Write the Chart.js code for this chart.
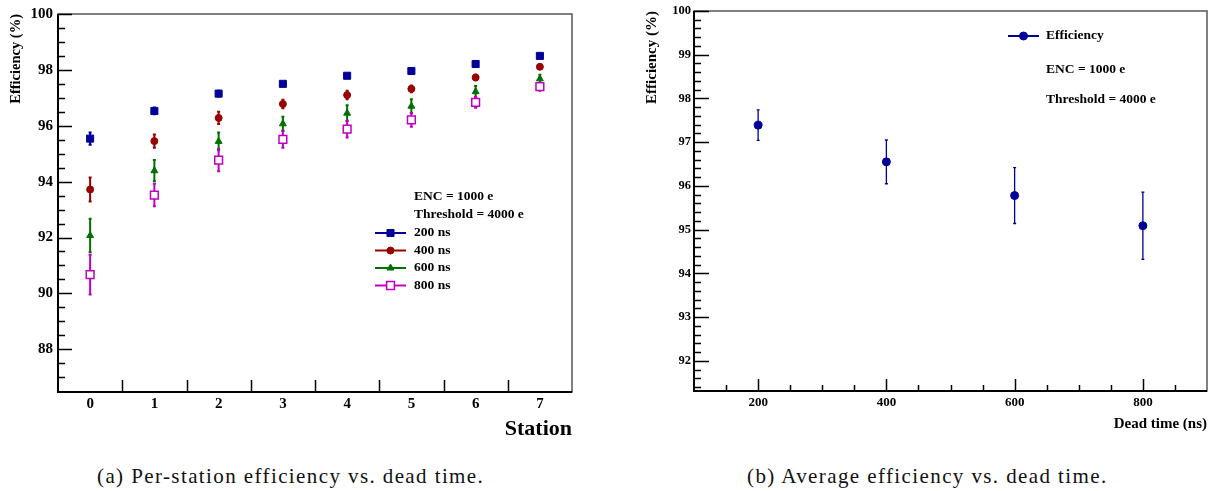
<!DOCTYPE html>
<html>
<head>
<meta charset="utf-8">
<script src="https://cdn.jsdelivr.net/npm/chart.js@4/dist/chart.umd.min.js"></script>
<style>
  body { margin: 0; background: #fff; width: 1215px; height: 491px; position: relative; overflow: hidden; font-family: "Liberation Serif", serif; }
  .box { position: absolute; top: 0; width: 600px; height: 450px; }
  .cap { position: absolute; top: 464px; font-size: 21px; line-height: 24px; letter-spacing: 1.4px; white-space: nowrap; color: #111; }
</style>
</head>
<body>
<div class="box" style="left:0"><canvas id="chartA" width="600" height="450"></canvas></div>
<div class="box" style="left:620px"><canvas id="chartB" width="600" height="450"></canvas></div>
<div class="cap" style="left:97px">(a) Per-station efficiency vs. dead time.</div>
<div class="cap" style="left:747px">(b) Average efficiency vs. dead time.</div>
<script>
// --- data (a): per-station efficiency (%) for each dead time
const stations = [0, 1, 2, 3, 4, 5, 6, 7];
const eff200 = [95.54, 96.53, 97.15, 97.50, 97.79, 97.96, 98.21, 98.50];
const err200 = [0.22, 0.12, 0.10, 0.06, 0.06, 0.06, 0.06, 0.06];
const eff400 = [93.72, 95.45, 96.28, 96.78, 97.10, 97.32, 97.73, 98.11];
const err400 = [0.43, 0.24, 0.22, 0.15, 0.15, 0.12, 0.10, 0.06];
const eff600 = [92.07, 94.39, 95.44, 96.07, 96.45, 96.70, 97.22, 97.68];
const err600 = [0.60, 0.38, 0.32, 0.25, 0.28, 0.25, 0.20, 0.15];
const eff800 = [90.67, 93.52, 94.77, 95.51, 95.88, 96.21, 96.84, 97.40];
const err800 = [0.71, 0.40, 0.40, 0.30, 0.30, 0.25, 0.20, 0.15];

// --- data (b): average efficiency vs dead time
const deadTimes = [200, 400, 600, 800];
const avgEff = [97.39, 96.55, 95.78, 95.09];
const avgErr = [0.35, 0.50, 0.64, 0.77];

// --- tick labels
const yTicksA = [88, 90, 92, 94, 96, 98, 100];
const xTicksA = [0, 1, 2, 3, 4, 5, 6, 7];
const yTicksB = [92, 93, 94, 95, 96, 97, 98, 99, 100];
const xTicksB = [200, 400, 600, 800];

const notes = ['ENC = 1000 e', 'Threshold = 4000 e'];

const BLUE = '#000099', RED = '#990000', GREEN = '#007000', MAGENTA = '#c000c0';
const bold = (s) => ({ family: '"Liberation Serif", serif', weight: 'bold', size: s });

function pts(xs, ys) { return xs.map((x, i) => ({ x: x, y: ys[i] })); }

// ROOT-like frame, inward ticks, error bars, legend
const rootStyle = {
  id: 'rootStyle',
  beforeDatasetsDraw(chart, args, o) {
    const ctx = chart.ctx, xs = chart.scales.x, ys = chart.scales.y;
    chart.data.datasets.forEach(ds => {
      if (!ds.errors) return;
      ctx.save();
      ctx.strokeStyle = ds.borderColor;
      ctx.lineWidth = o.errWidth;
      ds.data.forEach((p, j) => {
        const px = xs.getPixelForValue(p.x);
        const lo = ys.getPixelForValue(p.y - ds.errors[j]);
        const hi = ys.getPixelForValue(p.y + ds.errors[j]);
        ctx.beginPath();
        ctx.moveTo(px, lo); ctx.lineTo(px, hi);
        ctx.moveTo(px - o.cap, lo); ctx.lineTo(px + o.cap, lo);
        ctx.moveTo(px - o.cap, hi); ctx.lineTo(px + o.cap, hi);
        ctx.stroke();
      });
      ctx.restore();
    });
  },
  afterDraw(chart, args, o) {
    const ctx = chart.ctx, a = chart.chartArea, xs = chart.scales.x, ys = chart.scales.y;
    ctx.save();
    // frame
    ctx.strokeStyle = '#555';
    ctx.lineWidth = 1.5;
    ctx.strokeRect(a.left, a.top, a.right - a.left, a.bottom - a.top);
    ctx.strokeStyle = '#000';
    ctx.lineWidth = 2;
    ctx.beginPath();
    ctx.moveTo(a.left, a.top); ctx.lineTo(a.left, a.bottom); ctx.lineTo(a.right, a.bottom);
    ctx.stroke();
    // y ticks
    ctx.lineWidth = 1.5;
    ctx.beginPath();
    for (let v = o.yMinorFrom; v <= ys.max + 1e-9; v += o.yMinor) {
      const py = Math.round(ys.getPixelForValue(v)) + 0.5;
      if (py > a.bottom - 1) continue;
      const major = ys.ticks.some(t => Math.abs(t.value - v) < 1e-6);
      ctx.moveTo(a.left, py); ctx.lineTo(a.left + (major ? o.yMajorLen : o.yMinorLen), py);
    }
    // x ticks
    o.xMarks.forEach(m => {
      const px = Math.round(xs.getPixelForValue(m.v)) + 0.5;
      ctx.moveTo(px, a.bottom); ctx.lineTo(px, a.bottom - m.len);
    });
    ctx.stroke();
    // legend
    ctx.font = 'bold ' + o.legendSize + 'px "Liberation Serif", serif';
    ctx.textBaseline = 'middle';
    ctx.fillStyle = '#000';
    o.legend.forEach(item => {
      const ds = chart.data.datasets[item.ds];
      ctx.strokeStyle = ds.borderColor;
      ctx.lineWidth = 2;
      ctx.beginPath();
      ctx.moveTo(o.legendX0, item.y); ctx.lineTo(o.legendX1, item.y);
      ctx.stroke();
      ctx.fillStyle = ds.backgroundColor;
      ctx.lineWidth = ds.borderWidth;
      Chart.helpers.drawPoint(ctx, { pointStyle: ds.pointStyle, radius: ds.pointRadius, rotation: 0, borderWidth: ds.borderWidth },
        (o.legendX0 + o.legendX1) / 2, item.y);
      ctx.fillStyle = '#000';
      ctx.fillText(ds.label, o.textX, item.y);
    });
    o.notes.forEach(n => ctx.fillText(n.text, o.textX, n.y));
    ctx.restore();
  }
};

function fixedAxes(yWidth, xHeight) {
  return {
    y: { afterFit: s => { s.width = yWidth; } },
    x: { afterFit: s => { s.height = xHeight; } }
  };
}

// ---------------- chart (a)
const fa = fixedAxes(58, 58);
new Chart(document.getElementById('chartA'), {
  type: 'scatter',
  data: {
    datasets: [
      { label: '200 ns', data: pts(stations, eff200), errors: err200, pointStyle: 'rect', pointRadius: 5,
        backgroundColor: BLUE, borderColor: BLUE, borderWidth: 1 },
      { label: '400 ns', data: pts(stations, eff400), errors: err400, pointStyle: 'circle', pointRadius: 3.5,
        backgroundColor: RED, borderColor: RED, borderWidth: 1 },
      { label: '600 ns', data: pts(stations, eff600), errors: err600, pointStyle: 'triangle', pointRadius: 4,
        backgroundColor: GREEN, borderColor: GREEN, borderWidth: 1 },
      { label: '800 ns', data: pts(stations, eff800), errors: err800, pointStyle: 'rect', pointRadius: 5.5,
        backgroundColor: '#ffffff', borderColor: MAGENTA, borderWidth: 1.5 }
    ]
  },
  options: {
    responsive: false,
    animation: false,
    events: [],
    layout: { padding: { top: 11, right: 28, left: 0, bottom: 0 } },
    scales: {
      x: {
        type: 'linear', min: -0.5, max: 7.5,
        afterBuildTicks: s => { s.ticks = xTicksA.map(v => ({ value: v })); },
        afterFit: fa.x.afterFit,
        grid: { display: false, drawTicks: false },
        border: { display: false },
        ticks: { color: '#000', font: bold(15), padding: 3, maxRotation: 0, autoSkip: false },
        title: { display: true, text: 'Station', align: 'end', color: '#000', font: bold(22), padding: { top: 0, bottom: 7 } }
      },
      y: {
        min: 86.47, max: 100,
        afterBuildTicks: s => { s.ticks = yTicksA.map(v => ({ value: v })); },
        afterFit: fa.y.afterFit,
        grid: { display: false, drawTicks: false },
        border: { display: false },
        ticks: { color: '#000', font: bold(15), padding: 5 },
        title: { display: true, text: 'Efficiency (%)', align: 'end', color: '#000', font: bold(14.5), padding: { top: 8, bottom: 0 } }
      }
    },
    plugins: {
      legend: { display: false },
      tooltip: { enabled: false },
      rootStyle: {
        errWidth: 2, cap: 1.5,
        yMinorFrom: 86.5, yMinor: 0.5, yMajorLen: 14, yMinorLen: 7,
        xMarks: [0.5, 1.5, 2.5, 3.5, 4.5, 5.5, 6.5].map(v => ({ v: v, len: 12 })),
        legendSize: 13.5, legendX0: 375, legendX1: 406, textX: 414,
        legend: [{ ds: 0, y: 233 }, { ds: 1, y: 250.5 }, { ds: 2, y: 268 }, { ds: 3, y: 285.5 }],
        notes: [{ text: notes[0], y: 197 }, { text: notes[1], y: 215 }]
      }
    }
  },
  plugins: [rootStyle]
});

// ---------------- chart (b)
const fb = fixedAxes(74, 59);
const minorB = [];
for (let v = 150; v < 900; v += 50) minorB.push({ v: v, len: xTicksB.includes(v) ? 12 : 6 });
new Chart(document.getElementById('chartB'), {
  type: 'scatter',
  data: {
    datasets: [
      { label: 'Efficiency', data: pts(deadTimes, avgEff), errors: avgErr, pointStyle: 'circle', pointRadius: 4,
        backgroundColor: BLUE, borderColor: BLUE, borderWidth: 1 }
    ]
  },
  options: {
    responsive: false,
    animation: false,
    events: [],
    layout: { padding: { top: 11, right: 13, left: 0, bottom: 0 } },
    scales: {
      x: {
        type: 'linear', min: 100, max: 900,
        afterBuildTicks: s => { s.ticks = xTicksB.map(v => ({ value: v })); },
        afterFit: fb.x.afterFit,
        grid: { display: false, drawTicks: false },
        border: { display: false },
        ticks: { color: '#000', font: bold(13), padding: 4, maxRotation: 0, autoSkip: false },
        title: { display: true, text: 'Dead time (ns)', align: 'end', color: '#000', font: bold(15), padding: { top: 0, bottom: 17 } }
      },
      y: {
        min: 91.31, max: 100,
        afterBuildTicks: s => { s.ticks = yTicksB.map(v => ({ value: v })); },
        afterFit: fb.y.afterFit,
        grid: { display: false, drawTicks: false },
        border: { display: false },
        ticks: { color: '#000', font: bold(12.5), padding: 3 },
        title: { display: true, text: 'Efficiency (%)', align: 'end', color: '#000', font: bold(15), padding: { top: 23, bottom: 0 } }
      }
    },
    plugins: {
      legend: { display: false },
      tooltip: { enabled: false },
      rootStyle: {
        errWidth: 1.3, cap: 1.5,
        yMinorFrom: 91.4, yMinor: 0.2, yMajorLen: 15, yMinorLen: 7,
        xMarks: minorB,
        legendSize: 13.5, legendX0: 388, legendX1: 419, textX: 426,
        legend: [{ ds: 0, y: 36 }],
        notes: [{ text: notes[0], y: 70 }, { text: notes[1], y: 100 }]
      }
    }
  },
  plugins: [rootStyle]
});
</script>
</body>
</html>
